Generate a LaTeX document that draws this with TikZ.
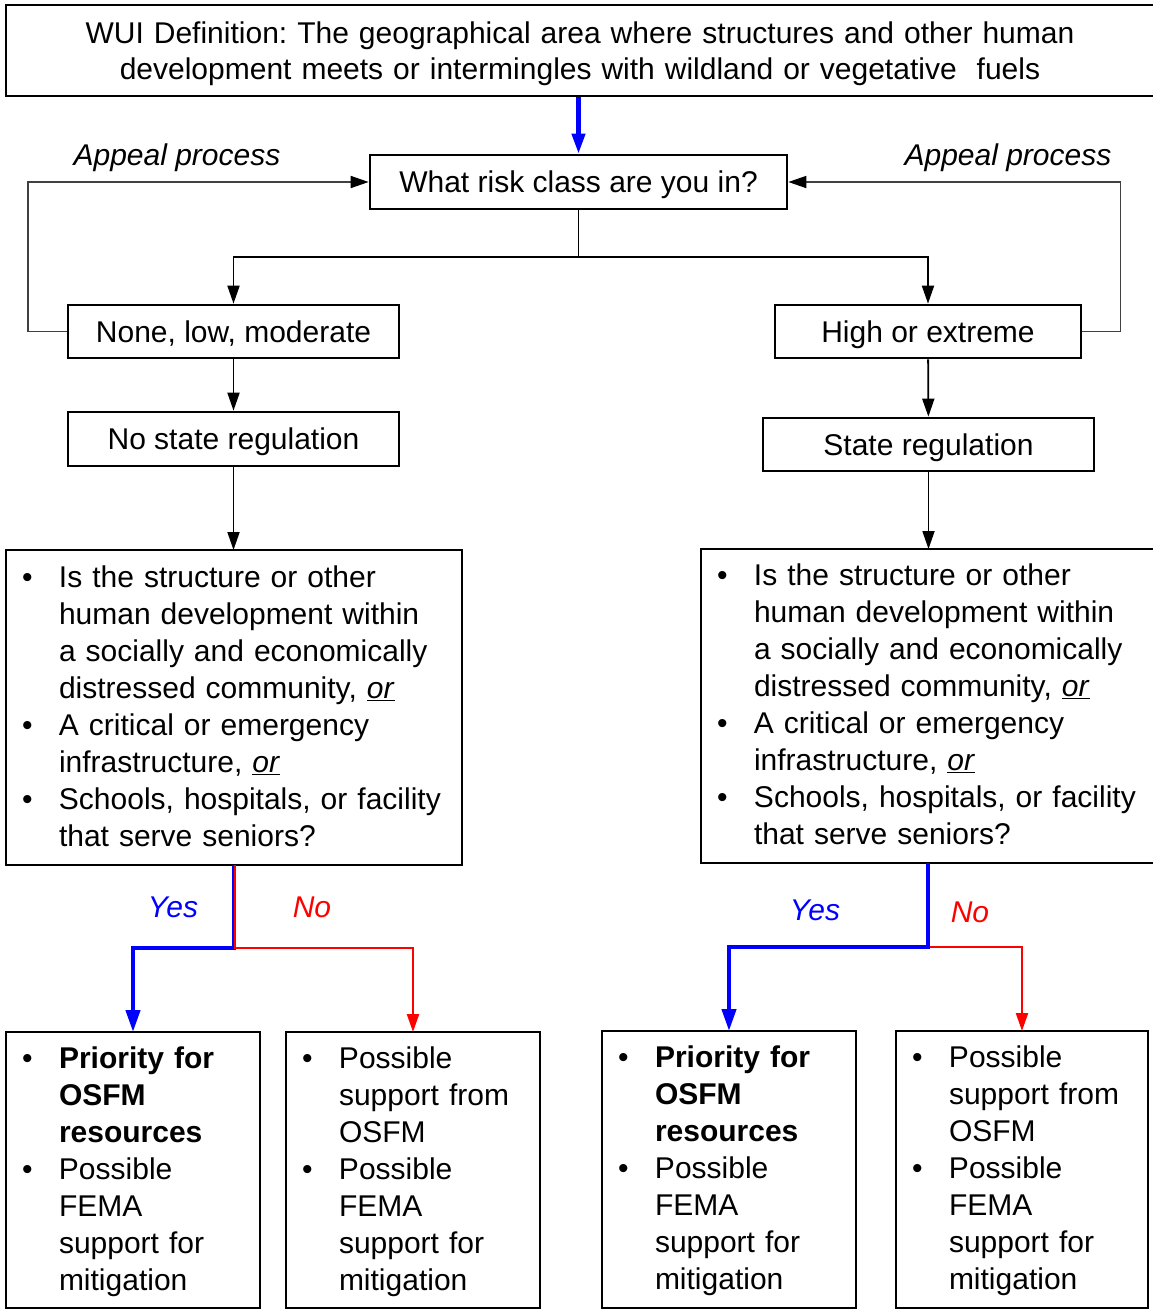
\documentclass[tikz,border=0pt]{standalone}
\usepackage{fontspec}
\setmainfont{Liberation Sans}
\usetikzlibrary{arrows.meta}
\frenchspacing
\newcommand\txtfont{\fontsize{30}{37}\selectfont}
\newcommand\widespaces{\spaceskip=10pt plus 2pt\relax}
\newcommand\lowered[2][-2pt]{\raisebox{#1}[\height][\depth]{#2}}
\tikzset{
  box/.style={draw=black, line width=2.7pt, inner sep=0pt, align=center, font=\txtfont,
    text height=27pt, text depth=6pt},
  listbox/.style={draw=black, line width=2.7pt, inner ysep=0pt, inner xsep=16pt, outer sep=0pt,
    anchor=north west, align=left, font=\txtfont, text width=#1},
  conn/.style={draw=black, line width=1.8pt, -{Triangle[length=18pt,width=12pt]}},
  appeal/.style={draw=black!75, line width=1.7pt, -{Triangle[length=18pt,width=12pt,color=black]}},
  yesline/.style={draw=blue, line width=4.2pt, -{Triangle[length=22pt,width=14pt]}},
  noline/.style={draw=red, line width=2.2pt, -{Triangle[length=18pt,width=12pt]}},
  lbl/.style={font=\txtfont\itshape, inner sep=0pt}
}
\begin{document}
\begin{tikzpicture}[x=1pt,y=-1pt]
\useasboundingbox (0,0) rectangle (1153,1310);
\clip (0,0) rectangle (1153,1310);

% main boxes
\node[draw=black, line width=2.7pt, inner sep=0pt,
  font=\fontsize{30}{36}\selectfont,
  minimum width=1148pt, minimum height=91pt] (top) at (580,50.5)
  {\widespaces\lowered[-4pt]{\begin{tabular}{@{}c@{}}WUI Definition: The geographical area where structures and other human\\development meets or intermingles with wildland or vegetative\ \ fuels\end{tabular}}};
\node[box, minimum width=417pt, minimum height=54pt] (risk) at (578.5,182) {What risk class are you in?};
\node[box, minimum width=331pt, minimum height=53pt] (none) at (233.5,331.5) {None, low, moderate};
\node[box, minimum width=306pt, minimum height=53pt] (high) at (928,331.5) {High or extreme};
\node[box, minimum width=331pt, minimum height=54pt] (nostate) at (233.5,439) {No state regulation};
\node[box, minimum width=331pt, minimum height=53pt] (state) at (928.5,444.5) {State regulation};

% question boxes
\node[listbox=424pt, minimum height=315pt] (qL) at (6,550) {\lowered{%
\begin{tabular}{@{}p{37pt}@{}l@{}}
\textbullet & Is the structure or other\\
 & human development within\\
 & a socially and economically\\
 & distressed community, \underline{\textit{or}}\\
\textbullet & A critical or emergency\\
 & infrastructure, \underline{\textit{or}}\\
\textbullet & Schools, hospitals, or facility\\
 & that serve seniors?
\end{tabular}}};
\node[listbox=422pt, minimum height=314pt] (qR) at (701,549) {\lowered{%
\begin{tabular}{@{}p{37pt}@{}l@{}}
\textbullet & Is the structure or other\\
 & human development within\\
 & a socially and economically\\
 & distressed community, \underline{\textit{or}}\\
\textbullet & A critical or emergency\\
 & infrastructure, \underline{\textit{or}}\\
\textbullet & Schools, hospitals, or facility\\
 & that serve seniors?
\end{tabular}}};

% outcome boxes
\node[listbox=222pt, minimum height=276pt] (b1) at (6,1032) {\lowered{%
\begin{tabular}{@{}p{37pt}@{}l@{}}
\textbullet & \textbf{Priority for}\\
 & \textbf{OSFM}\\
 & \textbf{resources}\\
\textbullet & Possible\\
 & FEMA\\
 & support for\\
 & mitigation
\end{tabular}}};
\node[listbox=222pt, minimum height=276pt] (b2) at (286,1032) {\lowered{%
\begin{tabular}{@{}p{37pt}@{}l@{}}
\textbullet & Possible\\
 & support from\\
 & OSFM\\
\textbullet & Possible\\
 & FEMA\\
 & support for\\
 & mitigation
\end{tabular}}};
\node[listbox=222pt, minimum height=277pt] (b3) at (602,1031) {\lowered{%
\begin{tabular}{@{}p{37pt}@{}l@{}}
\textbullet & \textbf{Priority for}\\
 & \textbf{OSFM}\\
 & \textbf{resources}\\
\textbullet & Possible\\
 & FEMA\\
 & support for\\
 & mitigation
\end{tabular}}};
\node[listbox=220pt, minimum height=277pt] (b4) at (896,1031) {\lowered{%
\begin{tabular}{@{}p{37pt}@{}l@{}}
\textbullet & Possible\\
 & support from\\
 & OSFM\\
\textbullet & Possible\\
 & FEMA\\
 & support for\\
 & mitigation
\end{tabular}}};

% labels
\node[lbl] (apL) at (177,158) {Appeal process};
\node[lbl] (apR) at (1008,158) {Appeal process};
\node[lbl, text=blue] (yesL) at (173,907) {Yes};
\node[lbl, text=red] (noL) at (312,907) {No};
\node[lbl, text=blue] (yesR) at (815,910) {Yes};
\node[lbl, text=red] (noR) at (970,912) {No};

% connectors
\draw[yesline, -{Triangle[length=20pt,width=13pt]}] (risk.north |- top.south) -- (risk.north);
\draw[draw=black, line width=1.8pt] (risk.south) -- ++(0,47) coordinate (split);
\draw[conn] (split) -| (none.north);
\draw[conn] (split) -| (high.north);
\draw[conn] (none) -- (nostate);
\draw[conn] (high) -- (state);
\draw[conn] (nostate) -- (qL.north -| nostate);
\draw[conn] (state) -- (qR.north -| state);

\draw[appeal] (none.west) -- ++(-39,0) |- (risk.west);
\draw[appeal] (high.east) -- ++(38,0) |- (risk.east);

\draw[yesline] (qL.south) -- ++(0,83) -| (b1.north);
\draw[noline] ([xshift=1pt]qL.south) -- ++(0,83) -| (b2.north);
\draw[noline] (qR.south) -- ++(0,84) -| (b4.north);
\draw[yesline] (qR.south) -- ++(0,84) -| (b3.north);
\end{tikzpicture}
\end{document}
